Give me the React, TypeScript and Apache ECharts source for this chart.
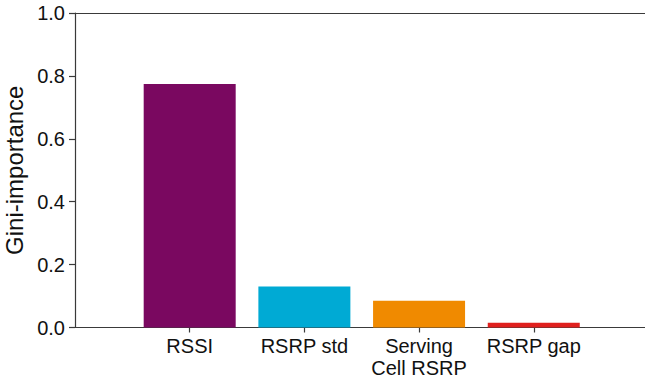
import React, { useEffect, useRef } from "react";
import * as echarts from "echarts";

const features = ["RSSI", "RSRP std", "Serving\nCell RSRP", "RSRP gap"];
const importance = [0.774, 0.13, 0.085, 0.015];
const barColors = ["#7A0860", "#00AAD4", "#F08A00", "#E0201E"];
const yTicks = [0, 0.2, 0.4, 0.6, 0.8, 1.0];

const FONT = "'Liberation Sans', Arial, Helvetica, sans-serif";
const AXIS_COLOR = "#3a3a3a";

export default function App() {
  const ref = useRef<HTMLDivElement>(null);

  useEffect(() => {
    if (!ref.current) return;
    const chart = echarts.init(ref.current, null, { renderer: "svg" });
    const positions = features.map((_, i) => i);

    chart.setOption({
      animation: false,
      backgroundColor: "#ffffff",
      grid: {
        left: 75,
        right: 0,
        top: 13,
        bottom: 53.5,
        containLabel: false,
        outerBoundsMode: "none",
      },
      xAxis: [
        {
          type: "value",
          min: -1,
          max: 3.97,
          position: "bottom",
          splitLine: { show: false },
          axisLine: { show: true, onZero: false, lineStyle: { color: AXIS_COLOR, width: 1.2 } },
          axisTick: {
            show: true,
            customValues: positions,
            length: 5,
            lineStyle: { color: AXIS_COLOR, width: 1.2 },
          },
          axisLabel: {
            customValues: positions,
            formatter: (v: number) => features[Math.round(v)] ?? "",
            color: "#111",
            fontFamily: FONT,
            fontSize: 20,
            lineHeight: 22,
            margin: 7,
          },
        },
        {
          type: "value",
          min: -1,
          max: 3.97,
          position: "top",
          splitLine: { show: false },
          axisLine: { show: true, onZero: false, lineStyle: { color: AXIS_COLOR, width: 1.2 } },
          axisTick: { show: false },
          axisLabel: { show: false },
        },
      ],
      yAxis: {
        type: "value",
        min: yTicks[0],
        max: yTicks[yTicks.length - 1],
        interval: 0.2,
        name: "Gini-importance",
        nameLocation: "middle",
        nameGap: 46,
        nameTextStyle: { fontFamily: FONT, fontSize: 24, color: "#111" },
        splitLine: { show: false },
        axisLine: { show: true, onZero: false, lineStyle: { color: AXIS_COLOR, width: 1.2 } },
        axisTick: { show: true, length: 6, lineStyle: { color: AXIS_COLOR, width: 1.2 } },
        axisLabel: {
          formatter: (v: number) => v.toFixed(1),
          color: "#111",
          fontFamily: FONT,
          fontSize: 20,
          margin: 10,
        },
      },
      series: [
        {
          type: "bar",
          xAxisIndex: 0,
          barWidth: 92,
          data: importance.map((v, i) => ({
            value: [i, v],
            itemStyle: { color: barColors[i] },
          })),
        },
      ],
    });

    return () => chart.dispose();
  }, []);

  return (
    <div
      ref={ref}
      style={{ position: "fixed", left: 0, top: 0, width: 645, height: 381 }}
    />
  );
}
